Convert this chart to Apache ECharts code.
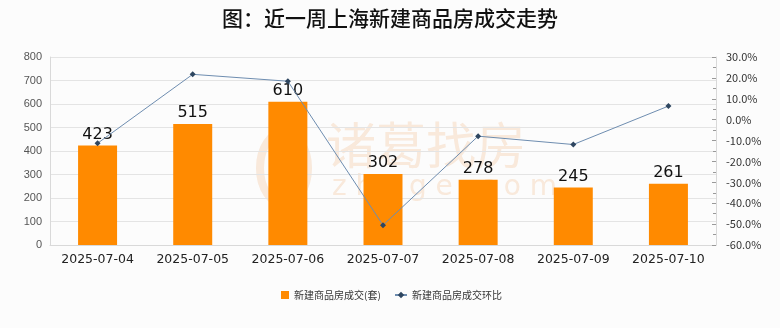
<!DOCTYPE html>
<html><head><meta charset="utf-8">
<script src="https://cdn.jsdelivr.net/npm/echarts@6/dist/echarts.min.js"></script>
<style>html,body{margin:0;padding:0;background:#fcfcfc}#c{width:780px;height:328px}</style>
</head><body><div id="c"></div>
<script>
var categories = ['2025-07-04','2025-07-05','2025-07-06','2025-07-07','2025-07-08','2025-07-09','2025-07-10'];
var deals = [423, 515, 610, 302, 278, 245, 261];
var ratio = [-11.3, 21.7, 18.4, -50.5, -7.9, -11.9, 6.5];
var titleText = '图：近一周上海新建商品房成交走势';
var barName = '新建商品房成交(套)';
var lineName = '新建商品房成交环比';

var wm = 'rgba(240,175,120,0.25)';
var chart = echarts.init(document.getElementById('c'));
chart.setOption({
  backgroundColor: '#fcfcfc',
  animation: false,
  title: {text: titleText, left: 'center', top: 3,
    textStyle: {fontSize: 21, fontWeight: 500, color: '#111', fontFamily: 'Noto Sans CJK SC'}},
  graphic: [
    {type: 'text', left: 326, top: 120, z: 0, silent: true,
     style: {text: '诸葛找房', fontSize: 50, fontFamily: 'Noto Sans CJK SC', fontWeight: 'normal', fill: wm}},
    {type: 'text', left: 332, top: 174, z: 0, silent: true,
     style: {text: 'z h u g e . c o m', fontSize: 28, fontFamily: 'DejaVu Sans', fill: wm}},
    {type: 'ellipse', left: 256, top: 128, z: 0, silent: true,
     shape: {cx: 0, cy: 0, rx: 24, ry: 36},
     style: {fill: 'none', stroke: wm, lineWidth: 8}},
    {type: 'ellipse', left: 273, top: 142, z: 0, silent: true,
     shape: {cx: 0, cy: 0, rx: 9, ry: 22},
     style: {fill: wm}}
  ],
  legend: [
    {bottom: 23, left: 276, itemWidth: 8, itemHeight: 8, itemGap: 0,
     textStyle: {fontSize: 10, color: '#333', fontFamily: 'Noto Sans CJK SC'},
     data: [{name: barName, icon: 'rect'}]},
    {bottom: 23, left: 389, itemWidth: 12, itemHeight: 8,
     textStyle: {fontSize: 10, color: '#333', fontFamily: 'Noto Sans CJK SC'},
     data: [{name: lineName}]}
  ],
  grid: {left: 50, right: 64, top: 57, bottom: 83},
  xAxis: {type: 'category', data: categories,
    axisLine: {lineStyle: {color: '#d9d9d9'}}, axisTick: {show: false},
    axisLabel: {fontSize: 12.5, color: '#222', margin: 8, fontFamily: 'DejaVu Sans'}},
  yAxis: [
    {type: 'value', min: 0, max: 800, interval: 100,
     axisLine: {show: true, lineStyle: {color: '#d9d9d9'}}, axisTick: {show: false},
     splitLine: {lineStyle: {color: '#e4e4e4'}},
     axisLabel: {fontSize: 11, color: '#555', margin: 8, fontFamily: 'Liberation Sans'}},
    {type: 'value', min: -60, max: 30, interval: 10, position: 'right',
     axisLine: {show: true, lineStyle: {color: '#d9d9d9'}},
     axisTick: {show: true, inside: true, length: 4, lineStyle: {color: '#999'}},
     minorTick: {show: true, splitNumber: 2, length: 3, lineStyle: {color: '#999'}},
     splitLine: {show: false},
     axisLabel: {fontSize: 11, color: '#333', margin: 10, fontFamily: 'Noto Sans CJK JP',
       formatter: function (v) { return v.toFixed(1) + '%'; }}}
  ],
  series: [
    {name: barName, type: 'bar', data: deals, barWidth: 39, z: 2,
     itemStyle: {color: '#ff8a00'},
     label: {show: true, position: 'top', distance: 3, fontSize: 16, color: '#111', fontFamily: 'DejaVu Sans'}},
    {name: lineName, type: 'line', yAxisIndex: 1, data: ratio, z: 3,
     symbol: 'diamond', symbolSize: 6, showSymbol: true,
     lineStyle: {color: '#6e8db0', width: 1},
     itemStyle: {color: '#2e4660'}}
  ]
});
</script></body></html>
